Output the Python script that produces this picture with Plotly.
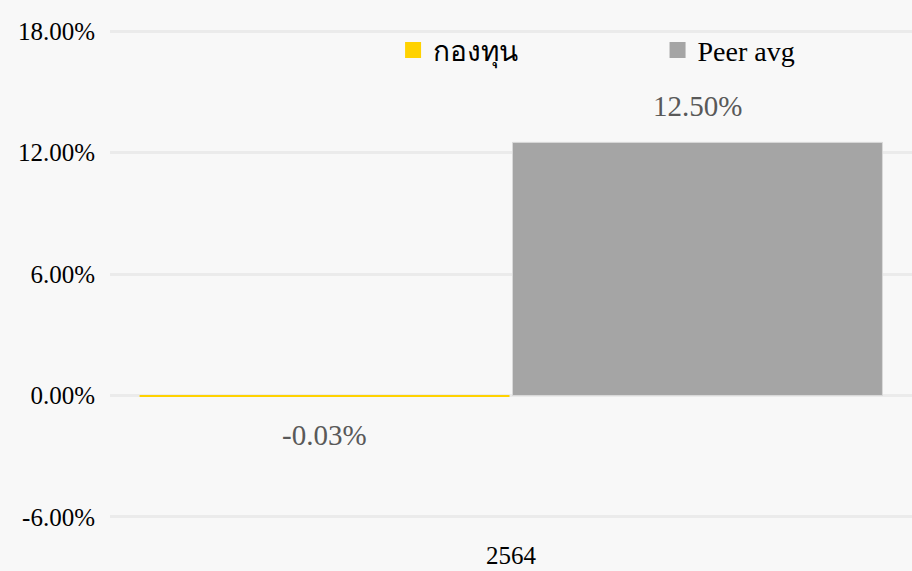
import plotly.graph_objects as go

# ---- data ----
categories = ["2564"]
series_names = ["กองทุน", "Peer avg"]
fund_values = [-0.03]
peer_values = [12.50]
y_ticks = [-6, 0, 6, 12, 18]

# ---- style ----
colors = ["#FFD200", "#A5A5A5"]
border_colors = ["#FFD200", "#D9D9D9"]
label_color = "#595959"
font_family = "Liberation Serif, Times New Roman, serif"
bargap = 0.07
bargroupgap = 0.008

x_idx = list(range(len(categories)))
all_values = [fund_values, peer_values]
legend_ids = ["legend", "legend2"]

fig = go.Figure()
for name, vals, col, bcol in zip(series_names, all_values, colors, border_colors):
    fig.add_trace(go.Bar(
        x=x_idx, y=vals, name=name,
        marker=dict(color=col, line=dict(color=bcol, width=1 if bcol != col else 0)),
        showlegend=False, hoverinfo="y+name",
    ))
for name, col, lid in zip(series_names, colors, legend_ids):
    fig.add_trace(go.Scatter(
        x=[None], y=[None], mode="markers", name=name, legend=lid,
        marker=dict(symbol="square", size=17, color=col),
    ))

# value labels placed from the data values
slot = (1 - bargap) / len(all_values)
annotations = []
for k, vals in enumerate(all_values):
    for i, v in zip(x_idx, vals):
        xc = i - (1 - bargap) / 2 + slot * (k + 0.5)
        pos = v >= 0
        annotations.append(dict(
            x=xc, y=v, xref="x", yref="y", text=f"{v:.2f}%", showarrow=False,
            yanchor="bottom" if pos else "top", yshift=18 if pos else -21,
            font=dict(size=29, color=label_color, family=font_family),
        ))

legend_style = dict(
    orientation="h", xref="container", yref="container",
    xanchor="left", yanchor="middle", y=0.912,
    font=dict(size=28, color="#000000", family=font_family),
    bgcolor="rgba(0,0,0,0)", borderwidth=0,
)

fig.update_layout(
    width=912, height=571,
    margin=dict(l=110, r=0, t=29, b=52, autoexpand=False),
    paper_bgcolor="#F8F8F8", plot_bgcolor="#F8F8F8",
    barmode="group", bargap=bargap, bargroupgap=bargroupgap,
    font=dict(family=font_family, color="#000000"),
    showlegend=True,
    legend=dict(legend_style, x=0.431),
    legend2=dict(legend_style, x=0.721),
    annotations=annotations,
)
fig.update_xaxes(
    range=[-0.5, len(categories) - 0.5], tickmode="array",
    tickvals=x_idx, ticktext=categories, showgrid=False, zeroline=False,
    showline=False, ticks="", tickfont=dict(size=25, color="#000000"),
    ticklabelstandoff=19,
)
fig.update_yaxes(
    range=[-6.1, 18.1], tickmode="array", tickvals=y_ticks,
    ticktext=[f"{t:.2f}%" for t in y_ticks], showgrid=True, gridcolor="#EBEBEB",
    gridwidth=3, zeroline=False, showline=False, ticks="",
    tickfont=dict(size=25, color="#000000"), ticklabelstandoff=14,
)

fig.write_html(
    "out.html",
    config={"displayModeBar": False},
    post_script="document.body.style.margin='0';document.body.style.overflow='hidden';",
)
